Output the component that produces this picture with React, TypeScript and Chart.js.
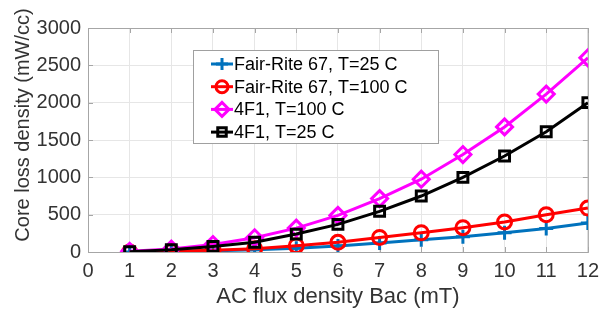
import React, { useEffect, useRef } from "react";
import { Chart, registerables } from "chart.js";
import { drawPoint } from "chart.js/helpers";

Chart.register(...registerables);

const xValues = [1, 2, 3, 4, 5, 6, 7, 8, 9, 10, 11, 12];
const fr67T25 = [0, 5, 15, 30, 50, 80, 122, 165, 205, 258, 315, 390];
const fr67T100 = [0, 10, 25, 45, 85, 130, 195, 258, 325, 402, 500, 588];
const f4T100 = [10, 40, 100, 190, 320, 490, 715, 975, 1305, 1675, 2115, 2600];
const f4T25 = [5, 30, 75, 130, 240, 370, 545, 750, 1000, 1285, 1610, 2000];
const seriesLabels = [
  "Fair-Rite 67, T=25 C",
  "Fair-Rite 67, T=100 C",
  "4F1, T=100 C",
  "4F1, T=25 C",
];
const xTicks = [0, 1, 2, 3, 4, 5, 6, 7, 8, 9, 10, 11, 12];
const yTicks = [0, 500, 1000, 1500, 2000, 2500, 3000];
const xTitle = "AC flux density Bac (mT)";
const yTitle = "Core loss density (mW/cc)";

const FONT = "'Liberation Sans', Arial, Helvetica, sans-serif";

const toPts = (ys: number[]) => xValues.map((x, i) => ({ x, y: ys[i] }));

const boxPlugin = {
  id: "matlabBox",
  beforeDatasetsDraw(chart: any) {
    const { ctx, chartArea: a } = chart;
    ctx.save();
    ctx.strokeStyle = "#a6a6a6";
    ctx.lineWidth = 1;
    ctx.strokeRect(a.left + 0.5, a.top + 0.5, a.right - a.left, a.bottom - a.top);
    const xs = chart.scales.x;
    const ys = chart.scales.y;
    ctx.beginPath();
    xTicks.forEach((t) => {
      const px = Math.round(xs.getPixelForValue(t)) + 0.5;
      ctx.moveTo(px, a.bottom);
      ctx.lineTo(px, a.bottom - 5);
      ctx.moveTo(px, a.top);
      ctx.lineTo(px, a.top + 5);
    });
    yTicks.forEach((t) => {
      const py = Math.round(ys.getPixelForValue(t)) + 0.5;
      ctx.moveTo(a.left, py);
      ctx.lineTo(a.left + 5, py);
      ctx.moveTo(a.right, py);
      ctx.lineTo(a.right - 5, py);
    });
    ctx.stroke();
    // y axis title
    ctx.translate(23, 125);
    ctx.rotate(-Math.PI / 2);
    ctx.fillStyle = "#333333";
    ctx.font = `20px ${FONT}`;
    ctx.textAlign = "center";
    ctx.textBaseline = "middle";
    ctx.fillText(yTitle, 0, 0);
    ctx.restore();
  },
};

const legendPlugin = {
  id: "insideLegend",
  afterDatasetsDraw(chart: any) {
    const { ctx } = chart;
    const bx = 193, by = 50, bw = 245, bh = 93;
    ctx.save();
    ctx.fillStyle = "#ffffff";
    ctx.fillRect(bx, by, bw, bh);
    ctx.strokeStyle = "#a0a0a0";
    ctx.lineWidth = 1;
    ctx.strokeRect(bx + 0.5, by + 0.5, bw, bh);
    [0, 1, 2, 3].forEach((di, row) => {
      const ds = chart.data.datasets[di];
      const cy = by + 14 + row * 22.7;
      ctx.strokeStyle = ds.borderColor;
      ctx.lineWidth = ds.borderWidth;
      ctx.beginPath();
      ctx.moveTo(211, cy);
      ctx.lineTo(233, cy);
      ctx.stroke();
      ctx.lineWidth = ds.pointBorderWidth;
      ctx.fillStyle = "rgba(0,0,0,0)";
      drawPoint(ctx, { pointStyle: ds.pointStyle, radius: ds.pointRadius - 1, borderWidth: ds.pointBorderWidth, rotation: 0 }, 222, cy);
      ctx.fillStyle = "#000000";
      ctx.font = `18px ${FONT}`;
      ctx.textBaseline = "middle";
      ctx.textAlign = "left";
      ctx.fillText(ds.label, 234, cy + 1);
    });
    ctx.restore();
  },
};

export default function App() {
  const ref = useRef<HTMLCanvasElement | null>(null);
  useEffect(() => {
    document.body.style.margin = "0";
    const common = {
      showLine: true,
      borderWidth: 3,
      pointBorderWidth: 3,
      pointBackgroundColor: "rgba(0,0,0,0)",
      pointHoverRadius: 7,
    };
    const chart = new Chart(ref.current as HTMLCanvasElement, {
      type: "scatter",
      data: {
        datasets: [
          { ...common, label: seriesLabels[0], data: toPts(fr67T25), borderColor: "#0072BD", pointBorderColor: "#0072BD", pointStyle: "cross", pointRadius: 7, order: 4 },
          { ...common, label: seriesLabels[1], data: toPts(fr67T100), borderColor: "#FF0000", pointBorderColor: "#FF0000", pointStyle: "circle", pointRadius: 7, order: 3 },
          { ...common, label: seriesLabels[2], data: toPts(f4T100), borderColor: "#FF00FF", pointBorderColor: "#FF00FF", pointStyle: "rectRot", pointRadius: 8, order: 2 },
          { ...common, label: seriesLabels[3], data: toPts(f4T25), borderColor: "#000000", pointBorderColor: "#000000", pointStyle: "rect", pointRadius: 7, order: 1 },
        ] as any,
      },
      options: {
        animation: false,
        responsive: false,
        maintainAspectRatio: false,
        layout: { padding: { top: 28, right: 16, left: 0, bottom: 0 } },
        plugins: { legend: { display: false }, tooltip: { enabled: false } },
        scales: {
          x: {
            type: "linear",
            min: 0,
            max: 12,
            afterFit: (s: any) => { s.height = 57; },
            afterBuildTicks: (s: any) => { s.ticks = xTicks.map((v) => ({ value: v })); },
            grid: { color: "#e6e6e6", drawTicks: false },
            border: { display: false },
            ticks: { color: "#333333", font: { family: FONT, size: 20 }, padding: 7, maxRotation: 0, callback: (v: any) => String(v) },
            title: { display: true, text: xTitle, color: "#333333", font: { family: FONT, size: 22 }, padding: { top: 0, bottom: -1 } },
          },
          y: {
            type: "linear",
            min: 0,
            max: 3000,
            afterFit: (s: any) => { s.width = 88; },
            afterBuildTicks: (s: any) => { s.ticks = yTicks.map((v) => ({ value: v })); },
            grid: { color: "#e6e6e6", drawTicks: false },
            border: { display: false },
            ticks: { color: "#333333", font: { family: FONT, size: 20 }, padding: 7, callback: (v: any) => String(v) },
            title: { display: false },
          },
        },
      } as any,
      plugins: [boxPlugin, legendPlugin],
    });
    return () => chart.destroy();
  }, []);
  return (
    <div style={{ position: "absolute", left: 0, top: 0, width: 606, height: 309 }}>
      <canvas ref={ref} width={606} height={309} style={{ display: "block", width: 606, height: 309 }} />
    </div>
  );
}
